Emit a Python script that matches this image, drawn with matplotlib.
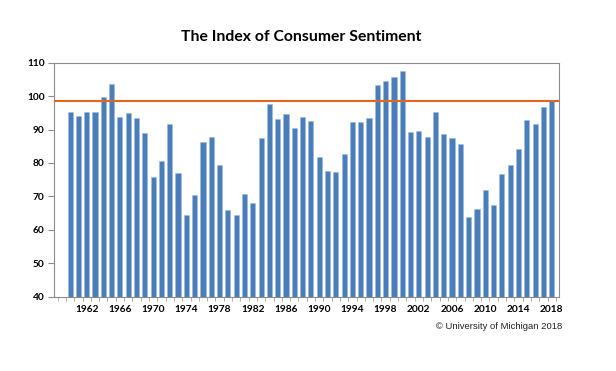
import matplotlib
matplotlib.use("Agg")
import matplotlib.pyplot as plt

years = list(range(1960, 2019))
sentiment = [95.2, 94.0, 95.4, 95.2, 99.6, 103.5, 93.8, 95.0, 93.4, 89.1,
             75.9, 80.6, 91.8, 76.9, 64.5, 70.3, 86.2, 87.7, 79.4, 66.0,
             64.4, 70.7, 68.0, 87.4, 97.6, 93.2, 94.8, 90.6, 93.7, 92.7,
             81.7, 77.6, 77.3, 82.8, 92.3, 92.2, 93.6, 103.2, 104.6, 105.8,
             107.6, 89.2, 89.6, 87.7, 95.2, 88.6, 87.4, 85.7, 63.8, 66.3,
             71.8, 67.4, 76.6, 79.3, 84.2, 92.9, 91.8, 96.8, 98.5]
reference_level = 98.5
year_ticks = list(range(1962, 2019, 4))
y_ticks = list(range(40, 111, 10))
title = "The Index of Consumer Sentiment"
credit = "\u00a9 University of Michigan 2018"

fig = plt.figure(figsize=(6.16, 3.71), dpi=100)
ax = fig.add_axes([0.0882, 0.2003, 0.908 - 0.0882, 0.831 - 0.2003])

ax.bar(years, [v - 40 for v in sentiment], bottom=40, width=0.62,
       color="#4A7EBB", edgecolor="#9DB8DC", linewidth=0.4, zorder=2)
ax.axhline(reference_level, color="#E4661C", linewidth=1.5, zorder=3)

ax.set_ylim(40, 110)
ax.set_xlim(1958.1, 2018.92)
ax.set_yticks(y_ticks)
ax.set_xticks(year_ticks)
ax.set_xticks([y + 0.5 for y in range(1958, 2019)], minor=True)

for s in ax.spines.values():
    s.set_color("#8C8C8C")
    s.set_linewidth(0.8)

ax.tick_params(axis="y", direction="out", length=4, width=0.8, color="#8C8C8C", pad=3)
ax.tick_params(axis="x", which="major", length=0, pad=6)
ax.tick_params(axis="x", which="minor", direction="out", length=3, width=0.6, color="#A0A0A0")

for lab in ax.get_xticklabels() + ax.get_yticklabels():
    lab.set_fontfamily("Lato")
    lab.set_fontweight("bold")
    lab.set_fontsize(7.3)
    lab.set_color("#000000")

fig.text(0.489, 0.9, title, ha="center", va="center", fontsize=11.3,
         fontfamily="Lato", fontweight="bold")
fig.text(0.912, 0.119, credit, ha="right", va="center", fontsize=6.8,
         fontfamily="Liberation Sans", color="#222222")

fig.savefig("out.png", dpi=100)
